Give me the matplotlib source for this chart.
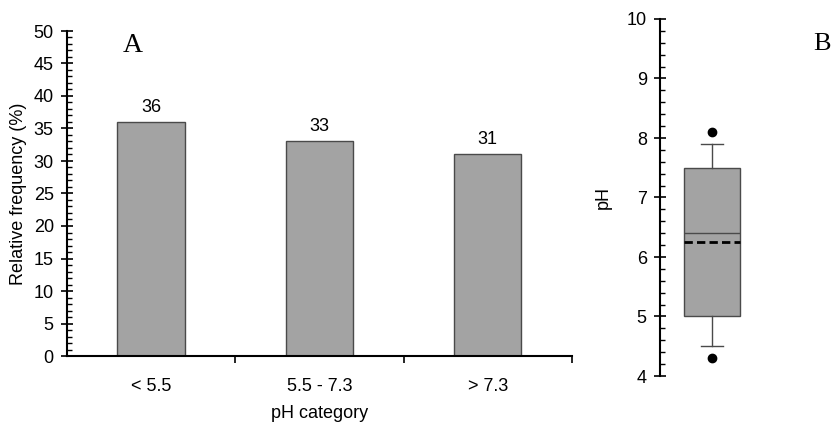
import matplotlib
matplotlib.use("Agg")
import matplotlib.pyplot as plt
from matplotlib.ticker import MultipleLocator

plt.rcParams['font.family'] = ['Liberation Sans', 'DejaVu Sans']

# Panel A: relative frequency of pH categories
categories = ['< 5.5', '5.5 - 7.3', '> 7.3']
frequency = [36, 33, 31]

# Panel B: pH box plot summary
ph_q1 = 5.0
ph_median = 6.4
ph_q3 = 7.5
ph_mean = 6.25
ph_whisker_low = 4.5
ph_whisker_high = 7.9
ph_outliers = [8.1, 4.3]

BAR_GREY = '#a3a3a3'
EDGE_GREY = '#4a4a4a'
FS = 13

fig = plt.figure(figsize=(8.36, 4.23), dpi=100)

# ---- panel A ----
ax1 = fig.add_axes([67 / 836, 67 / 423, 505 / 836, 325 / 423])
x = list(range(len(categories)))
ax1.bar(x, frequency, width=0.4, color=BAR_GREY, edgecolor=EDGE_GREY, linewidth=1.0)
for xi, v in zip(x, frequency):
    ax1.text(xi, v + 1.0, f'{v}', ha='center', va='bottom', fontsize=FS)

ax1.set_xlim(-0.5, len(categories) - 0.5)
ax1.set_ylim(0, 50)
ax1.set_xticks([i + 0.5 for i in x])
ax1.set_xticklabels([])
ax1.set_xticks(x, minor=True)
ax1.set_xticklabels(categories, minor=True, fontsize=FS)
ax1.tick_params(axis='x', which='minor', length=0, pad=16)
ax1.tick_params(axis='x', which='major', direction='out', length=5, width=1.2)
ax1.yaxis.set_major_locator(MultipleLocator(5))
ax1.yaxis.set_minor_locator(MultipleLocator(1))
ax1.tick_params(axis='y', which='major', direction='inout', length=9, width=1.2,
                labelsize=FS, pad=5)
ax1.tick_params(axis='y', which='minor', direction='in', length=3.5, width=1.0)
for side in ['top', 'right']:
    ax1.spines[side].set_visible(False)
for side in ['left', 'bottom']:
    ax1.spines[side].set_linewidth(1.5)
ax1.set_xlabel('pH category', fontsize=FS, labelpad=7)
ax1.set_ylabel('Relative frequency (%)', fontsize=FS, labelpad=5)
ax1.text(0.13, 0.955, 'A', transform=ax1.transAxes, family='Liberation Serif',
         fontsize=20, ha='center', va='center')

# ---- panel B ----
ax2 = fig.add_axes([660 / 836, 47 / 423, 170 / 836, 357 / 423])
stats = [{
    'q1': ph_q1, 'med': ph_median, 'q3': ph_q3, 'mean': ph_mean,
    'whislo': ph_whisker_low, 'whishi': ph_whisker_high,
    'fliers': ph_outliers,
}]
ax2.bxp(stats, positions=[0.306], widths=0.33, patch_artist=True,
        showmeans=True, meanline=True,
        boxprops=dict(facecolor=BAR_GREY, edgecolor=EDGE_GREY, linewidth=1.0),
        medianprops=dict(color=EDGE_GREY, linewidth=1.0),
        meanprops=dict(color='black', linestyle=(0, (3, 1.5)), linewidth=2.0),
        whiskerprops=dict(color=EDGE_GREY, linewidth=1.0),
        capprops=dict(color=EDGE_GREY, linewidth=1.0),
        capwidths=0.124,
        flierprops=dict(marker='o', markerfacecolor='black', markeredgecolor='black',
                        markersize=6))
ax2.set_xlim(0, 1)
ax2.set_ylim(4, 10)
ax2.yaxis.set_major_locator(MultipleLocator(1))
ax2.yaxis.set_minor_locator(MultipleLocator(0.2))
ax2.tick_params(axis='y', which='major', direction='inout', length=9, width=1.2,
                labelsize=FS, pad=5)
ax2.tick_params(axis='y', which='minor', direction='in', length=3.5, width=1.0)
ax2.set_xticks([])
for side in ['top', 'right', 'bottom']:
    ax2.spines[side].set_visible(False)
ax2.spines['left'].set_linewidth(1.5)
ax2.set_ylabel('pH', fontsize=FS, labelpad=11)
ax2.text(0.955, 0.93, 'B', transform=ax2.transAxes, family='Liberation Serif',
         fontsize=19, ha='center', va='center')

fig.savefig('out.png', dpi=100)
